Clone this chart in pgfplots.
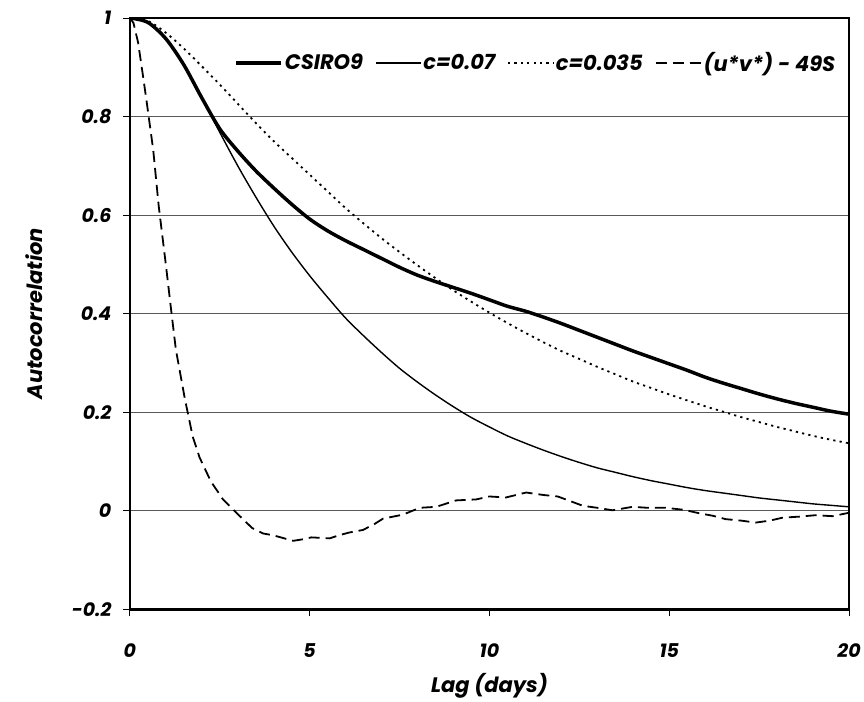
\documentclass[border=0pt]{standalone}
\usepackage{pgfplots}
\pgfplotsset{compat=1.18}
\usepackage{fontspec}
\setmainfont{Poppins}
\begin{document}
\begin{tikzpicture}
\begin{axis}[
  name=ax,
  scale only axis,
  width=720pt, height=592pt,
  xmin=0, xmax=20, ymin=-0.2, ymax=1,
  xtick={0,5,10,15,20}, xticklabels={0,5,10,15,20},
  ytick={-0.2,0,0.2,0.4,0.6,0.8,1},
  yticklabels={-0.2,0,0.2,0.4,0.6,0.8,1},
  xtick pos=bottom, ytick pos=left,
  tick align=outside,
  major tick length=7pt,
  tick style={black, line width=0.8pt},
  axis line style={line width=2.6pt},
  ymajorgrids, major grid style={gray!70!black, line width=0.8pt},
  ticklabel style={font=\fontsize{19}{19}\selectfont\bfseries\itshape},
  xticklabel style={yshift=-24pt},
  yticklabel style={xshift=-8pt},
  xlabel={Lag (days)}, ylabel={Autocorrelation},
  label style={font=\fontsize{21}{21}\selectfont\bfseries\itshape},
  xlabel style={yshift=-9pt},
  ylabel style={yshift=22pt},
  legend columns=4,
  legend style={draw=none, fill=none, at={(rel axis cs:0.988,0.924)}, anchor=east,
    font=\fontsize{21}{21}\selectfont\bfseries\itshape,
    /tikz/every even column/.append style={column sep=10pt}},
  legend image code/.code={\draw[#1] (0pt,0pt) -- (45pt,0pt);},
]
\addplot[black, line width=3.5pt, smooth] coordinates {
(0,1.000) (0.5,0.991) (1.0,0.958) (1.5,0.905) (2.0,0.838) (2.5,0.775) (3.0,0.730)
(3.5,0.690) (4.0,0.655) (4.5,0.622) (5.0,0.592) (5.5,0.568) (6.0,0.548) (6.5,0.530)
(7.0,0.512) (7.5,0.494) (8.0,0.478) (8.5,0.465) (9.0,0.453) (9.5,0.441) (10.0,0.428)
(10.5,0.415) (11.0,0.405) (11.5,0.393) (12.0,0.380) (12.5,0.366) (13.0,0.352)
(13.5,0.338) (14.0,0.324) (14.5,0.311) (15.0,0.298) (15.5,0.285) (16.0,0.271)
(16.5,0.259) (17.0,0.248) (17.5,0.237) (18.0,0.227) (18.5,0.218) (19.0,0.210)
(19.5,0.202) (20.0,0.196)};
\addlegendentry{CSIRO9}
\addplot[black, line width=1.4pt, smooth] coordinates {
(0,1.000) (0.5,0.991) (1.0,0.958) (1.5,0.905) (2.0,0.838) (2.5,0.768) (3.0,0.700)
(3.5,0.637) (4.0,0.578) (4.5,0.525) (5.0,0.477) (5.5,0.433) (6.0,0.391) (6.5,0.355)
(7.0,0.321) (7.5,0.289) (8.0,0.261) (8.5,0.235) (9.0,0.211) (9.5,0.189) (10.0,0.170)
(10.5,0.152) (11.0,0.137) (11.5,0.123) (12.0,0.110) (12.5,0.098) (13.0,0.087)
(13.5,0.078) (14.0,0.069) (14.5,0.061) (15.0,0.054) (15.5,0.047) (16.0,0.041)
(16.5,0.036) (17.0,0.031) (17.5,0.026) (18.0,0.022) (18.5,0.018) (19.0,0.014)
(19.5,0.011) (20.0,0.008)};
\addlegendentry{c=0.07}
\addplot[black, line width=1.8pt, dash pattern=on 2.2pt off 4.2pt, smooth] coordinates {
(0,1.000) (0.5,0.994) (1.0,0.970) (1.5,0.938) (2.0,0.902) (2.5,0.865) (3.0,0.826)
(3.5,0.787) (4.0,0.750) (4.5,0.716) (5.0,0.682) (5.5,0.648) (6.0,0.614) (6.5,0.583)
(7.0,0.553) (7.5,0.525) (8.0,0.498) (8.5,0.472) (9.0,0.447) (9.5,0.424) (10.0,0.402)
(10.5,0.381) (11.0,0.361) (11.5,0.342) (12.0,0.324) (12.5,0.308) (13.0,0.292)
(13.5,0.277) (14.0,0.262) (14.5,0.249) (15.0,0.236) (15.5,0.224) (16.0,0.212)
(16.5,0.201) (17.0,0.190) (17.5,0.180) (18.0,0.170) (18.5,0.161) (19.0,0.152)
(19.5,0.144) (20.0,0.137)};
\addlegendentry{c=0.035}
\addplot[black, line width=1.8pt, dash pattern=on 11pt off 6pt] coordinates {
(0,1.0) (0.1,0.99) (0.23,0.95) (0.35,0.89) (0.46,0.834) (0.65,0.732) (0.8,0.62)
(1.0,0.50) (1.16,0.40) (1.28,0.327) (1.53,0.227) (1.75,0.15) (1.94,0.108) (2.25,0.06)
(2.59,0.023) (3.06,-0.011) (3.4,-0.035) (3.7,-0.046) (4.0,-0.05) (4.54,-0.061)
(4.8,-0.058) (5.05,-0.054) (5.3,-0.055) (5.56,-0.056) (5.8,-0.05) (6.11,-0.044)
(6.48,-0.039) (6.8,-0.027) (7.04,-0.016) (7.59,-0.008) (8.06,0.006) (8.52,0.008)
(9.07,0.021) (9.63,0.023) (10.0,0.029) (10.46,0.027) (11.02,0.037) (11.5,0.032)
(11.9,0.029) (12.6,0.010) (13.0,0.006) (13.42,0.001) (13.98,0.008) (14.4,0.006)
(14.9,0.006) (15.4,0.002) (15.83,-0.005) (16.2,-0.010) (16.57,-0.017) (17.0,-0.020)
(17.4,-0.024) (17.8,-0.020) (18.15,-0.014) (18.6,-0.012) (19.07,-0.009)
(19.54,-0.011) (20.0,-0.004)};
\addlegendentry{(u*v*) - 49S}
\end{axis}
\path ([xshift=-130pt,yshift=-84pt]ax.south west) rectangle ([xshift=14pt,yshift=18pt]ax.north east);
\end{tikzpicture}
\end{document}
